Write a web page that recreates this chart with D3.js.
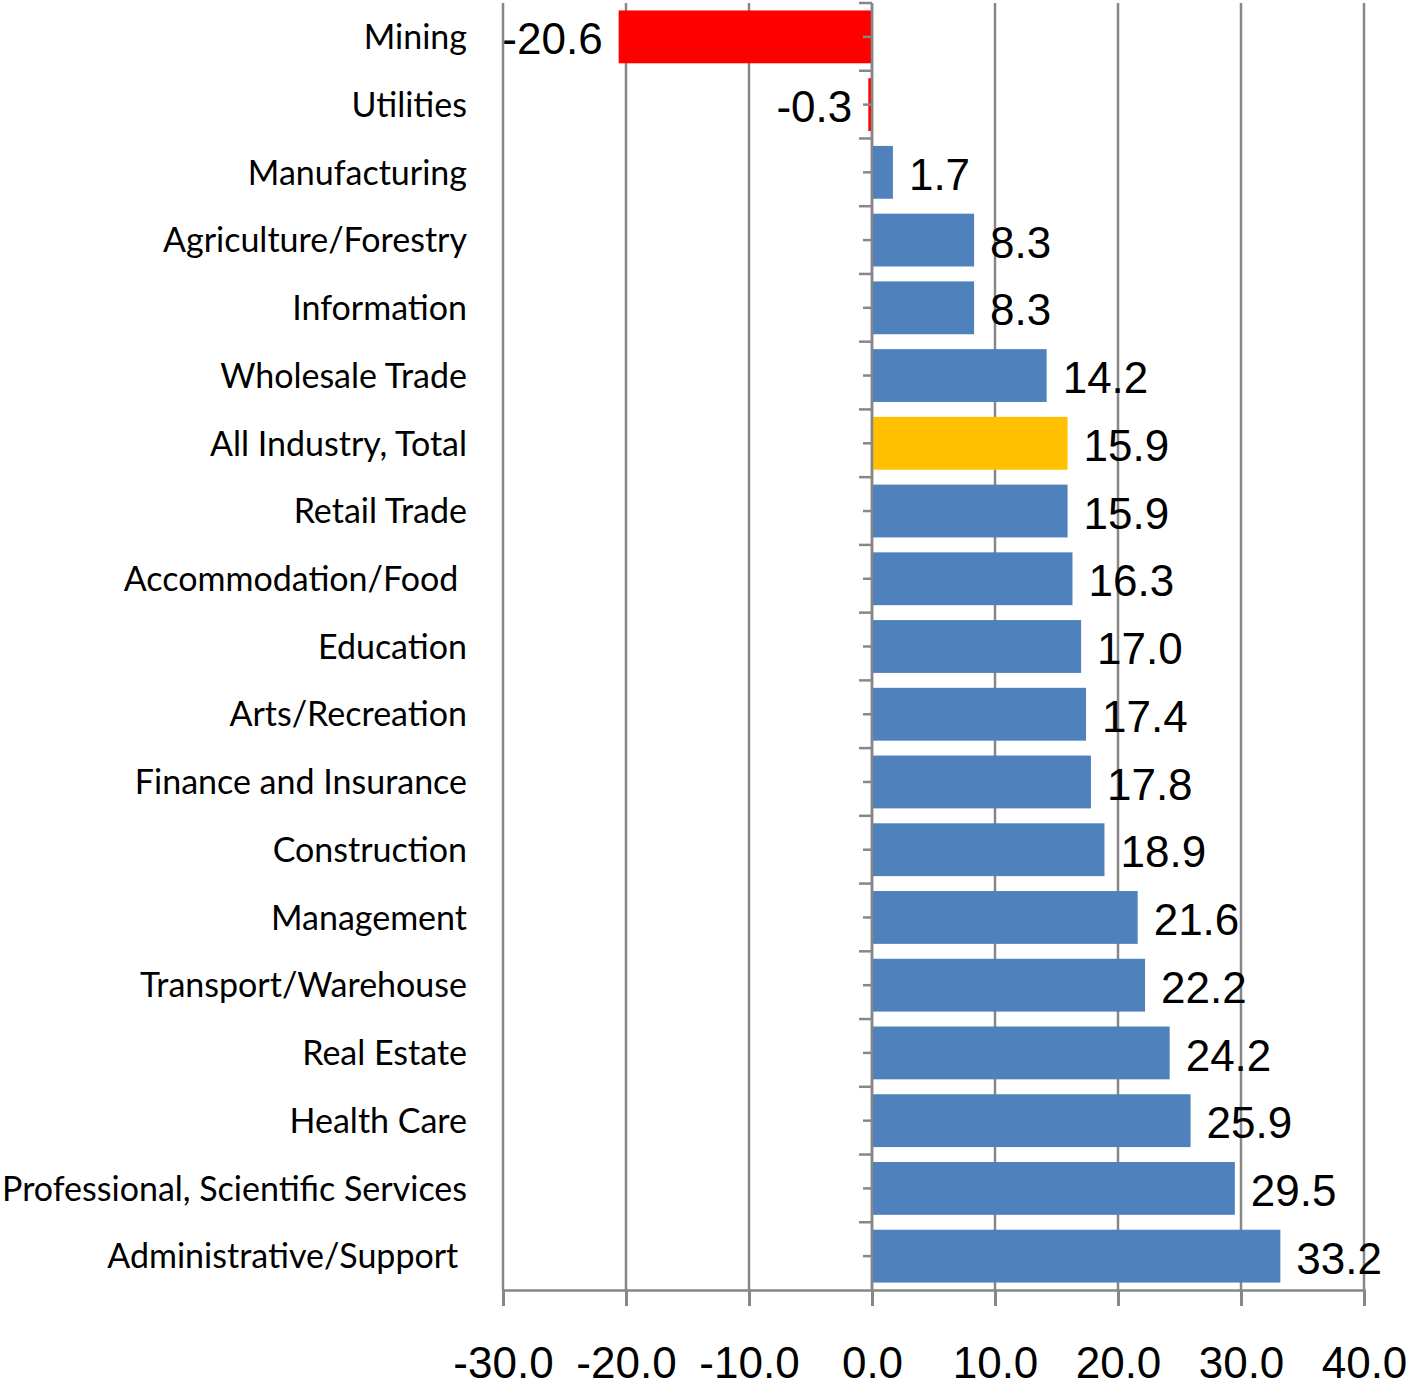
<!DOCTYPE html>
<html>
<head>
<meta charset="utf-8">
<script src="https://cdn.jsdelivr.net/npm/d3@7"></script>
<style>
  body { margin: 0; background: #fff; }
  svg { display: block; }
  .cat { font-family: Lato, "Open Sans", sans-serif; font-size: 34px; fill: #000; white-space: pre; }
  .num { font-family: "Liberation Sans", Arial, sans-serif; font-size: 44px; fill: #000; }
</style>
</head>
<body>
<div id="chart"></div>
<script>
// industries, top to bottom
const categories = [
    "Mining", "Utilities", "Manufacturing", "Agriculture/Forestry", "Information",
    "Wholesale Trade", "All Industry, Total", "Retail Trade", "Accommodation/Food ",
    "Education", "Arts/Recreation", "Finance and Insurance", "Construction",
    "Management", "Transport/Warehouse", "Real Estate", "Health Care",
    "Professional, Scientific Services", "Administrative/Support "
]
const values = [
    -20.6, -0.3, 1.7, 8.3, 8.3,
    14.2, 15.9, 15.9, 16.3,
    17.0, 17.4, 17.8, 18.9,
    21.6, 22.2, 24.2, 25.9,
    29.5, 33.2
]
const xTicks = [-30, -20, -10, 0, 10, 20, 30, 40]
const highlight = "All Industry, Total"

const data = categories.map((c, i) => ({ category: c, value: values[i] }))

const width = 1406
const height = 1389
const margin = { top: 3, left: 503, right: 42, bottom: 99 }

const svg = d3.select("#chart")
    .append("svg")
    .attr("width", width)
    .attr("height", height)

const xScale = d3.scaleLinear()
    .domain([-30, 40])
    .range([margin.left, width - margin.right])

const yScale = d3.scaleBand()
    .domain(categories)
    .range([margin.top, height - margin.bottom])
    .paddingInner(0.22)
    .paddingOuter(0.11)

const plotBottom = height - margin.bottom
const gray = "#878787"
const fmt = d => d.toFixed(1)

// vertical gridlines
svg.append("g")
    .selectAll("line")
    .data(xTicks)
    .join("line")
    .attr("x1", d => xScale(d))
    .attr("x2", d => xScale(d))
    .attr("y1", margin.top)
    .attr("y2", plotBottom)
    .attr("stroke", gray)
    .attr("stroke-width", 2.5)

// bottom axis
const xAxis = d3.axisBottom(xScale)
    .tickValues(xTicks)
    .tickSize(16)
    .tickPadding(41)
    .tickFormat(fmt)

const xAxisGroup = svg.append("g")
    .attr("transform", `translate(0, ${plotBottom})`)
    .call(xAxis)

xAxisGroup.attr("font-size", null).attr("font-family", null)
xAxisGroup.select(".domain")
    .attr("stroke", gray)
    .attr("stroke-width", 2.5)
xAxisGroup.selectAll(".tick line")
    .attr("stroke", gray)
    .attr("stroke-width", 3)
xAxisGroup.selectAll(".tick text")
    .attr("class", "num")
    .attr("fill", "#000")

// bars
svg.append("g")
    .selectAll("rect")
    .data(data)
    .join("rect")
    .attr("x", d => xScale(Math.min(0, d.value)))
    .attr("y", d => yScale(d.category))
    .attr("width", d => Math.abs(xScale(d.value) - xScale(0)))
    .attr("height", yScale.bandwidth())
    .attr("fill", d => d.category === highlight ? "#FFC000" : d.value < 0 ? "#FF0000" : "#4F81BD")

// y axis line at zero with ticks at band edges and band centres
const zeroX = xScale(0)
const axisG = svg.append("g")
axisG.append("line")
    .attr("x1", zeroX).attr("x2", zeroX)
    .attr("y1", margin.top).attr("y2", plotBottom)
    .attr("stroke", gray).attr("stroke-width", 2.5)

const step = yScale.step()
const edges = d3.range(categories.length).map(i => margin.top + i * step)
axisG.selectAll("line.edge")
    .data(edges)
    .join("line")
    .attr("class", "edge")
    .attr("x1", zeroX - 13).attr("x2", zeroX)
    .attr("y1", d => d).attr("y2", d => d)
    .attr("stroke", gray).attr("stroke-width", 2.5)

axisG.selectAll("line.mid")
    .data(categories)
    .join("line")
    .attr("class", "mid")
    .attr("x1", zeroX - 9).attr("x2", zeroX)
    .attr("y1", d => yScale(d) + yScale.bandwidth() / 2)
    .attr("y2", d => yScale(d) + yScale.bandwidth() / 2)
    .attr("stroke", gray).attr("stroke-width", 2.5)

// category labels
svg.append("g")
    .selectAll("text")
    .data(categories)
    .join("text")
    .attr("class", "cat")
    .attr("x", 467)
    .attr("y", d => yScale(d) + yScale.bandwidth() / 2)
    .attr("dy", "0.36em")
    .attr("text-anchor", "end")
    .text(d => d)

// value labels
svg.append("g")
    .selectAll("text")
    .data(data)
    .join("text")
    .attr("class", "num")
    .attr("x", d => d.value < 0 ? xScale(d.value) - 16 : xScale(d.value) + 16)
    .attr("y", d => yScale(d.category) + yScale.bandwidth() / 2)
    .attr("dy", "0.4em")
    .attr("text-anchor", d => d.value < 0 ? "end" : "start")
    .text(d => fmt(d.value))
</script>
</body>
</html>
